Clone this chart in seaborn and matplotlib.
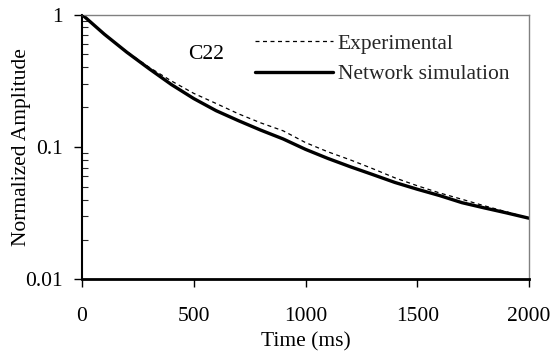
import numpy as np
import pandas as pd
import matplotlib
matplotlib.use("Agg")
import matplotlib.pyplot as plt
import matplotlib.ticker as mticker
import seaborn as sns

# ---- data ----
time_ms = [0, 100, 200, 300, 400, 500, 600, 700, 800, 900, 1000,
           1100, 1200, 1300, 1400, 1500, 1600, 1700, 1800, 1900, 2000]
experimental = [1.0, 0.71, 0.525, 0.40, 0.315, 0.254, 0.213, 0.178, 0.152, 0.1325, 0.108,
                0.092, 0.080, 0.0687, 0.0585, 0.051, 0.045, 0.0403, 0.036, 0.0324, 0.029]
network_sim = [1.0, 0.71, 0.52, 0.39, 0.296, 0.232, 0.188, 0.158, 0.134, 0.115, 0.096,
               0.082, 0.071, 0.062, 0.054, 0.048, 0.043, 0.038, 0.0347, 0.0318, 0.029]
series_names = ["Experimental", "Network simulation"]
x_ticks = [0, 500, 1000, 1500, 2000]
y_ticks = [0.01, 0.1, 1]
y_tick_labels = ["0.01", "0.1", "1"]
annotation = "C22"

df = pd.DataFrame({
    "Time (ms)": time_ms * 2,
    "Normalized Amplitude": experimental + network_sim,
    "series": [series_names[0]] * len(time_ms) + [series_names[1]] * len(time_ms),
})

sns.set_theme(style="white")
plt.rcParams["font.family"] = ["Liberation Serif", "DejaVu Serif"]
FS = 15.5

fig = plt.figure(figsize=(5.53, 3.54), dpi=100)
ax = fig.add_axes([0.1483, 0.2105, 0.9566 - 0.1483, 0.959 - 0.2105])

sns.lineplot(data=df[df["series"] == series_names[1]], x="Time (ms)", y="Normalized Amplitude",
             ax=ax, color="black", linewidth=2.4, label=series_names[1], zorder=2)
sns.lineplot(data=df[df["series"] == series_names[0]], x="Time (ms)", y="Normalized Amplitude",
             ax=ax, color="black", linewidth=0.9, linestyle=(0, (3.2, 2.8)),
             label=series_names[0], zorder=3)

ax.set_yscale("log")
ax.set_xlim(0, 2000)
ax.set_ylim(0.01, 1)
ax.set_xticks(x_ticks)
ax.set_yticks(y_ticks)
ax.yaxis.set_major_formatter(mticker.FixedFormatter(y_tick_labels))
ax.yaxis.set_minor_locator(mticker.LogLocator(base=10, subs=np.arange(2, 10)))
ax.yaxis.set_minor_formatter(mticker.NullFormatter())

ax.tick_params(axis="both", which="major", labelsize=FS, colors="black")
ax.tick_params(axis="x", which="major", direction="out", length=6, width=1, pad=14, bottom=True)
ax.tick_params(axis="y", which="major", direction="out", length=6, width=1, pad=8, left=True)
ax.tick_params(axis="y", which="minor", direction="in", length=4, width=0.8, left=True)

for s in ["top", "right"]:
    ax.spines[s].set_color("#808080")
    ax.spines[s].set_linewidth(1.0)
ax.spines["left"].set_color("black")
ax.spines["left"].set_linewidth(1.5)
ax.spines["bottom"].set_color("black")
ax.spines["bottom"].set_linewidth(2.0)

ax.set_xlabel("Time (ms)", fontsize=FS, color="black", labelpad=4)
ax.set_ylabel("Normalized Amplitude", fontsize=FS, color="black", labelpad=-4.2)

ax.text(0.278, 0.85, annotation, transform=ax.transAxes, fontsize=FS,
        ha="center", va="center", color="black")

handles, labels = ax.get_legend_handles_labels()
order = [labels.index(series_names[0]), labels.index(series_names[1])]
ax.legend([handles[i] for i in order], [labels[i] for i in order],
          loc="upper left", bbox_to_anchor=(0.363, 0.968), frameon=False, fontsize=FS,
          handlelength=3.6, handletextpad=0.25, labelspacing=0.49, borderaxespad=0.2,
          borderpad=0.3)

fig.savefig("out.png", dpi=100, facecolor="white")
